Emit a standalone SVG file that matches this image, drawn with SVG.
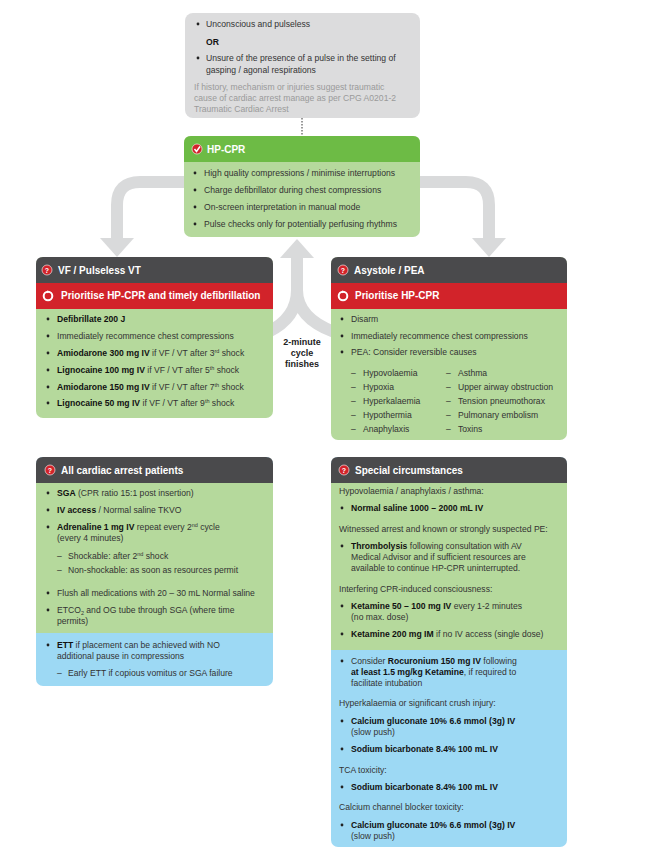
<svg xmlns="http://www.w3.org/2000/svg" width="653" height="852" viewBox="0 0 653 852">
<style>
text{font-family:"Liberation Sans",Arial,sans-serif;font-size:8.6px;fill:#333}
.b{font-weight:bold;fill:#111}
.h{font-weight:bold;font-size:10px;fill:#fff}
.g{fill:#9a9a9a}
.c{font-weight:bold;font-size:9px;fill:#222;text-anchor:middle}
.arr{fill:none;stroke:#d9dadb;stroke-width:12}
.ah{fill:#d9dadb}
.q{fill:#d2232a}
</style>
<defs>
<g id="qi"><circle r="5" class="q" stroke="#fff" stroke-width="0.6"/><text x="0" y="3" style="font-size:7px;font-weight:bold;fill:#fff;text-anchor:middle">?</text></g>
<g id="ri"><circle r="4.3" fill="none" stroke="#fff" stroke-width="2"/><path d="M-1,-5.5 L2,-4.3 L-1,-2.8Z" fill="#fff"/></g>
</defs>
<rect width="653" height="852" fill="#fff"/>
<g id="connectors">
<line x1="302" y1="118" x2="302" y2="136" stroke="#333" stroke-width="1" stroke-dasharray="1.5,1.5"/>
<path class="arr" d="M186,182 H140 Q117,182 117,205 V240"/>
<polygon class="ah" points="100,238 134,238 117,257"/>
<path class="arr" d="M420,182 H466 Q489,182 489,205 V240"/>
<polygon class="ah" points="472,238 506,238 489,257"/>
<path class="arr" d="M268,332 Q297,318 297,290 V256"/>
<path class="arr" d="M334,332 Q297,318 297,290"/>
<polygon class="ah" points="280,258 314,258 297,239"/>
</g>
<g id="start">
<rect x="185" y="13" width="235" height="105" rx="8" fill="#dcdcdd"/>
<circle cx="198" cy="24" r="1.4" fill="#222"/><text x="206" y="27">Unconscious and pulseless</text>
<text x="206" y="45" class="b">OR</text>
<circle cx="198" cy="58" r="1.4" fill="#222"/><text x="206" y="61">Unsure of the presence of a pulse in the setting of</text>
<text x="206" y="73">gasping / agonal respirations</text>
<text x="194" y="90" class="g">If history, mechanism or injuries suggest traumatic</text>
<text x="194" y="101" class="g">cause of cardiac arrest manage as per CPG A0201-2</text>
<text x="194" y="112" class="g">Traumatic Cardiac Arrest</text>
</g>
<g id="hpcpr">
<rect x="184" y="136" width="236" height="101" rx="7" fill="#b5d99c"/>
<path d="M184,162 V143 Q184,136 191,136 H413 Q420,136 420,143 V162Z" fill="#6dbb45"/>
<circle cx="197" cy="149" r="5" class="q" stroke="#fff" stroke-width="0.6"/>
<path d="M194.5,149 L196.5,151.5 L200,146.5" fill="none" stroke="#fff" stroke-width="1.5"/>
<text x="207" y="153" class="h">HP-CPR</text>
<g>
<circle cx="195" cy="173" r="1.4" fill="#222"/><text x="204" y="176">High quality compressions / minimise interruptions</text>
<circle cx="195" cy="190" r="1.4" fill="#222"/><text x="204" y="193">Charge defibrillator during chest compressions</text>
<circle cx="195" cy="207" r="1.4" fill="#222"/><text x="204" y="210">On-screen interpretation in manual mode</text>
<circle cx="195" cy="224" r="1.4" fill="#222"/><text x="204" y="227">Pulse checks only for potentially perfusing rhythms</text>
</g>
</g>
<g id="cycle-label">
<text x="302" y="345" class="c">2-minute</text>
<text x="302" y="356" class="c">cycle</text>
<text x="302" y="367" class="c">finishes</text>
</g>
<g id="vf">
<rect x="36" y="257" width="237" height="161" rx="7" fill="#b5d99c"/>
<path d="M36,283 V264 Q36,257 43,257 H266 Q273,257 273,264 V283Z" fill="#4a4a4c"/>
<rect x="36" y="283" width="237" height="26" fill="#d2232a"/>
<use href="#qi" x="47" y="270"/><text x="58" y="274" class="h">VF / Pulseless VT</text>
<use href="#ri" x="48" y="296"/><text x="61" y="299" class="h">Prioritise HP-CPR and timely defibrillation</text>
<circle cx="48" cy="319" r="1.4" fill="#222"/><text x="57" y="322" class="b">Defibrillate 200 J</text>
<circle cx="48" cy="336" r="1.4" fill="#222"/><text x="57" y="339">Immediately recommence chest compressions</text>
<circle cx="48" cy="353" r="1.4" fill="#222"/><text x="57" y="356"><tspan class="b">Amiodarone 300 mg IV</tspan> if VF / VT after 3<tspan dy="-3" font-size="5.5">rd</tspan><tspan dy="3"> shock</tspan></text>
<circle cx="48" cy="370" r="1.4" fill="#222"/><text x="57" y="373"><tspan class="b">Lignocaine 100 mg IV</tspan> if VF / VT after 5<tspan dy="-3" font-size="5.5">th</tspan><tspan dy="3"> shock</tspan></text>
<circle cx="48" cy="387" r="1.4" fill="#222"/><text x="57" y="390"><tspan class="b">Amiodarone 150 mg IV</tspan> if VF / VT after 7<tspan dy="-3" font-size="5.5">th</tspan><tspan dy="3"> shock</tspan></text>
<circle cx="48" cy="403" r="1.4" fill="#222"/><text x="57" y="406"><tspan class="b">Lignocaine 50 mg IV</tspan> if VF / VT after 9<tspan dy="-3" font-size="5.5">th</tspan><tspan dy="3"> shock</tspan></text>
</g>
<g id="asystole">
<rect x="331" y="257" width="236" height="183" rx="7" fill="#b5d99c"/>
<path d="M331,283 V264 Q331,257 338,257 H560 Q567,257 567,264 V283Z" fill="#4a4a4c"/>
<rect x="331" y="283" width="236" height="26" fill="#d2232a"/>
<use href="#qi" x="343" y="270"/><text x="354" y="274" class="h">Asystole / PEA</text>
<use href="#ri" x="343" y="296"/><text x="355" y="299" class="h">Prioritise HP-CPR</text>
<circle cx="342" cy="319" r="1.4" fill="#222"/><text x="351" y="322">Disarm</text>
<circle cx="342" cy="336" r="1.4" fill="#222"/><text x="351" y="339">Immediately recommence chest compressions</text>
<circle cx="342" cy="352" r="1.4" fill="#222"/><text x="351" y="355">PEA: Consider reversible causes</text>
<text x="351" y="376">–</text><text x="363" y="376">Hypovolaemia</text>
<text x="351" y="390">–</text><text x="363" y="390">Hypoxia</text>
<text x="351" y="404">–</text><text x="363" y="404">Hyperkalaemia</text>
<text x="351" y="418">–</text><text x="363" y="418">Hypothermia</text>
<text x="351" y="432">–</text><text x="363" y="432">Anaphylaxis</text>
<text x="446" y="376">–</text><text x="458" y="376">Asthma</text>
<text x="446" y="390">–</text><text x="458" y="390">Upper airway obstruction</text>
<text x="446" y="404">–</text><text x="458" y="404">Tension pneumothorax</text>
<text x="446" y="418">–</text><text x="458" y="418">Pulmonary embolism</text>
<text x="446" y="432">–</text><text x="458" y="432">Toxins</text>
</g>
<g id="all-patients">
<rect x="36" y="457" width="237" height="229" rx="7" fill="#9dd9f4"/>
<path d="M36,633 V483 H273 V633Z" fill="#b5d99c"/>
<path d="M36,483 V464 Q36,457 43,457 H266 Q273,457 273,464 V483Z" fill="#4a4a4c"/>
<use href="#qi" x="50" y="470"/><text x="61" y="474" class="h">All cardiac arrest patients</text>
<circle cx="48" cy="493" r="1.4" fill="#222"/><text x="57" y="496"><tspan class="b">SGA</tspan> (CPR ratio 15:1 post insertion)</text>
<circle cx="48" cy="510" r="1.4" fill="#222"/><text x="57" y="513"><tspan class="b">IV access</tspan> / Normal saline TKVO</text>
<circle cx="48" cy="527" r="1.4" fill="#222"/><text x="57" y="530"><tspan class="b">Adrenaline 1 mg IV</tspan> repeat every 2<tspan dy="-3" font-size="5.5">nd</tspan><tspan dy="3"> cycle</tspan></text>
<text x="57" y="541">(every 4 minutes)</text>
<text x="57" y="559">–</text><text x="68" y="559">Shockable: after 2<tspan dy="-3" font-size="5.5">nd</tspan><tspan dy="3"> shock</tspan></text>
<text x="57" y="573">–</text><text x="68" y="573">Non-shockable: as soon as resources permit</text>
<circle cx="48" cy="593" r="1.4" fill="#222"/><text x="57" y="596">Flush all medications with 20 – 30 mL Normal saline</text>
<circle cx="48" cy="610" r="1.4" fill="#222"/><text x="57" y="613">ETCO<tspan dy="2" font-size="5.5">2</tspan><tspan dy="-2"> and OG tube through SGA (where time</tspan></text>
<text x="57" y="624">permits)</text>
<circle cx="48" cy="645" r="1.4" fill="#222"/><text x="57" y="648"><tspan class="b">ETT</tspan> if placement can be achieved with NO</text>
<text x="57" y="659">additional pause in compressions</text>
<text x="57" y="676">–</text><text x="68" y="676">Early ETT if copious vomitus or SGA failure</text>
</g>
<g id="special">
<rect x="331" y="457" width="236" height="390" rx="7" fill="#9dd9f4"/>
<path d="M331,650 V483 H567 V650Z" fill="#b5d99c"/>
<path d="M331,483 V464 Q331,457 338,457 H560 Q567,457 567,464 V483Z" fill="#4a4a4c"/>
<use href="#qi" x="344" y="470"/><text x="355" y="474" class="h">Special circumstances</text>
<text x="339" y="494">Hypovolaemia / anaphylaxis / asthma:</text>
<circle cx="342" cy="508" r="1.4" fill="#222"/><text x="351" y="511" class="b">Normal saline 1000 – 2000 mL IV</text>
<text x="339" y="532">Witnessed arrest and known or strongly suspected PE:</text>
<circle cx="342" cy="546" r="1.4" fill="#222"/><text x="351" y="549"><tspan class="b">Thrombolysis</tspan> following consultation with AV</text>
<text x="351" y="560">Medical Advisor and if sufficient resources are</text>
<text x="351" y="571">available to continue HP-CPR uninterrupted.</text>
<text x="339" y="592">Interfering CPR-induced consciousness:</text>
<circle cx="342" cy="606" r="1.4" fill="#222"/><text x="351" y="609"><tspan class="b">Ketamine 50 – 100 mg IV</tspan> every 1-2 minutes</text>
<text x="351" y="620">(no max. dose)</text>
<circle cx="342" cy="634" r="1.4" fill="#222"/><text x="351" y="637"><tspan class="b">Ketamine 200 mg IM</tspan> if no IV access (single dose)</text>
<circle cx="342" cy="661" r="1.4" fill="#222"/><text x="351" y="664">Consider <tspan class="b">Rocuronium 150 mg IV</tspan> following</text>
<text x="351" y="675"><tspan class="b">at least 1.5 mg/kg Ketamine</tspan>, if required to</text>
<text x="351" y="686">facilitate intubation</text>
<text x="339" y="706">Hyperkalaemia or significant crush injury:</text>
<circle cx="342" cy="721" r="1.4" fill="#222"/><text x="351" y="724" class="b">Calcium gluconate 10% 6.6 mmol (3g) IV</text>
<text x="351" y="735">(slow push)</text>
<circle cx="342" cy="749" r="1.4" fill="#222"/><text x="351" y="752" class="b">Sodium bicarbonate 8.4% 100 mL IV</text>
<text x="339" y="773">TCA toxicity:</text>
<circle cx="342" cy="787" r="1.4" fill="#222"/><text x="351" y="790" class="b">Sodium bicarbonate 8.4% 100 mL IV</text>
<text x="339" y="810">Calcium channel blocker toxicity:</text>
<circle cx="342" cy="825" r="1.4" fill="#222"/><text x="351" y="828" class="b">Calcium gluconate 10% 6.6 mmol (3g) IV</text>
<text x="351" y="839">(slow push)</text>
</g>
</svg>
